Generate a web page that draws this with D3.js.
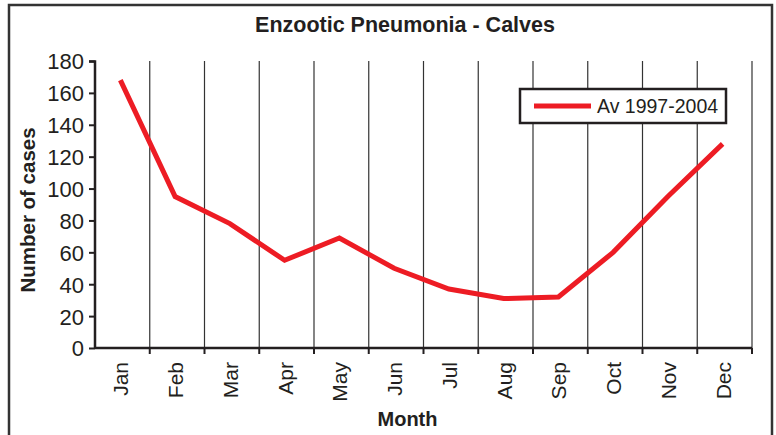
<!DOCTYPE html>
<html>
<head>
<meta charset="utf-8">
<script src="https://cdn.jsdelivr.net/npm/d3@7"></script>
<style>
  body { margin: 0; background: #fff; }
  text { font-family: "Liberation Sans", Arial, Helvetica, sans-serif; fill: #231f20; }
</style>
</head>
<body>
<div id="chart"></div>
<script>
// chart values
const months = ["Jan", "Feb", "Mar", "Apr", "May", "Jun", "Jul", "Aug", "Sep", "Oct", "Nov", "Dec"];
const cases = [168, 95, 78, 55, 69, 50, 37, 31, 32, 60, 95, 128];
const yTicks = [0, 20, 40, 60, 80, 100, 120, 140, 160, 180];
const seriesName = "Av 1997-2004";

var W = 776, H = 435;
var margin = {top: 61, right: 24, bottom: 87, left: 95},
    width = W - margin.left - margin.right,
    height = H - margin.top - margin.bottom;

var root = d3.select("#chart")
    .append("svg")
    .attr("width", W)
    .attr("height", H);

// outer frame
root.append("rect")
    .attr("x", 9).attr("y", 5)
    .attr("width", 763).attr("height", 440)
    .attr("fill", "none")
    .attr("stroke", "#333")
    .attr("stroke-width", 2.5);

root.append("text")
    .attr("x", 405).attr("y", 32)
    .attr("text-anchor", "middle")
    .style("font-size", "21.5px")
    .style("font-weight", "bold")
    .text("Enzootic Pneumonia - Calves");

var svg = root.append("g")
    .attr("transform", "translate(" + margin.left + "," + margin.top + ")");

var x = d3.scaleBand().domain(months).range([0, width]);
var y = d3.scaleLinear().domain([0, 180]).range([height, 0]);

// vertical grid lines at category boundaries
svg.append("g")
  .selectAll("line")
  .data(months)
  .join("line")
    .attr("x1", d => x(d) + x.bandwidth())
    .attr("x2", d => x(d) + x.bandwidth())
    .attr("y1", 0)
    .attr("y2", height)
    .attr("stroke", "#333")
    .attr("stroke-width", 1.2);

// x axis: ticks on boundaries, labels at band centres
var xAx = svg.append("g")
    .attr("transform", "translate(0," + height + ")");
xAx.append("line")
    .attr("x1", 0).attr("x2", width)
    .attr("stroke", "#231f20").attr("stroke-width", 2.5);
xAx.selectAll(".tk")
  .data(months)
  .join("line")
    .attr("class", "tk")
    .attr("x1", d => x(d) + x.bandwidth())
    .attr("x2", d => x(d) + x.bandwidth())
    .attr("y1", 0).attr("y2", 6)
    .attr("stroke", "#231f20").attr("stroke-width", 2);
xAx.selectAll(".lb")
  .data(months)
  .join("text")
    .attr("class", "lb")
    .attr("transform", d => "translate(" + (x(d) + x.bandwidth() / 2 + 6) + ",14) rotate(-90)")
    .attr("text-anchor", "end")
    .style("font-size", "21px")
    .text(d => d);

// y axis
var yAx = svg.append("g").call(d3.axisLeft(y).tickValues(yTicks).tickSize(6).tickPadding(5));
yAx.select(".domain").attr("stroke", "#231f20").attr("stroke-width", 2.5).attr("d", "M-6,0.5H0V" + height);
yAx.selectAll(".tick line").attr("stroke", "#231f20").attr("stroke-width", 2);
yAx.selectAll(".tick text")
    .style("font-size", "22px")
    .attr("dy", "0.36em")
    .attr("fill", "#231f20");

svg.append("text")
    .attr("transform", "rotate(-90)")
    .attr("x", -149)
    .attr("y", -60)
    .attr("text-anchor", "middle")
    .style("font-size", "20.5px")
    .style("font-weight", "bold")
    .text("Number of cases");

svg.append("text")
    .attr("x", width / 2 - 16)
    .attr("y", height + 78)
    .attr("text-anchor", "middle")
    .style("font-size", "20px")
    .style("font-weight", "bold")
    .text("Month");

// data line
svg.append("path")
    .datum(cases)
    .attr("fill", "none")
    .attr("stroke", "#ed1c24")
    .attr("stroke-width", 5)
    .attr("d", d3.line()
        .x((d, i) => x(months[i]) + x.bandwidth() / 2 - 2)
        .y(d => y(d)));

// legend
var lg = root.append("g").attr("transform", "translate(520,89)");
lg.append("rect")
    .attr("width", 206).attr("height", 34)
    .attr("fill", "#fff")
    .attr("stroke", "#231f20")
    .attr("stroke-width", 2.5);
lg.append("line")
    .attr("x1", 14).attr("x2", 71)
    .attr("y1", 17).attr("y2", 17)
    .attr("stroke", "#ed1c24").attr("stroke-width", 5);
lg.append("text")
    .attr("x", 77).attr("y", 24)
    .style("font-size", "19.5px")
    .text(seriesName);
</script>
</body>
</html>
